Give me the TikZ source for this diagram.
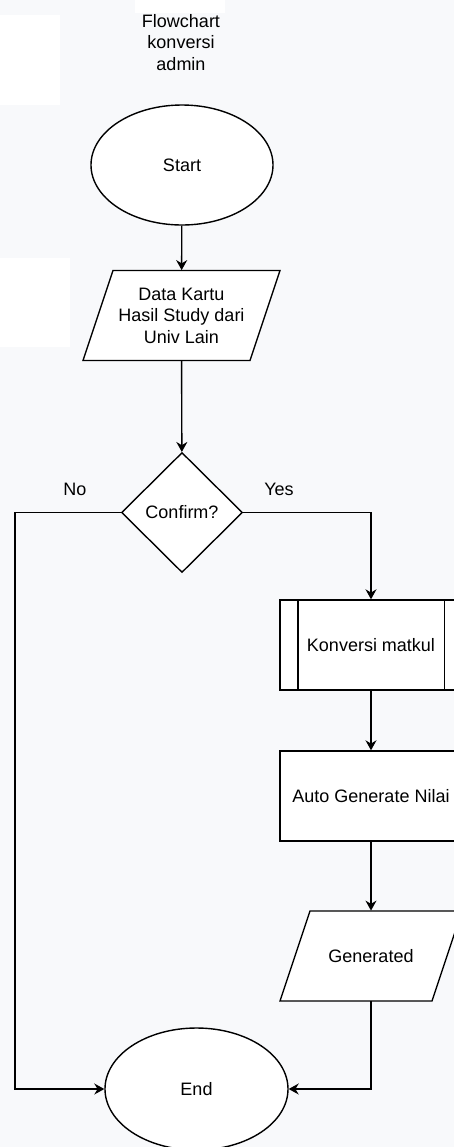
\documentclass[tikz,border=0pt]{standalone}
\usepackage{fontspec}
\setmainfont{Liberation Sans}
\usetikzlibrary{shapes.geometric,arrows.meta}
\definecolor{pagebg}{RGB}{248,249,251}

\begin{document}
\begin{tikzpicture}[x=0.5pt,y=-0.5pt,font=\fontsize{9}{10.75}\selectfont]
\tikzstyle{terminal}=[ellipse,draw,fill=white,line width=0.7pt,minimum width=91pt,minimum height=60pt,inner sep=0pt]
\tikzstyle{ioshape}=[draw,fill=white,line width=0.7pt]
\tikzstyle{io}=[rectangle,minimum height=45pt,align=center,inner sep=0pt]
\tikzstyle{decision}=[diamond,draw,fill=white,line width=0.7pt,minimum width=60.5pt,minimum height=60pt,inner sep=0pt]
\tikzstyle{process}=[rectangle,draw,fill=white,line width=0.7pt,minimum width=91pt,minimum height=45pt]
\tikzstyle{flow}=[line width=0.7pt,-{Stealth[length=5pt,width=5.5pt]}]
\tikzstyle{branch}=[inner sep=0pt]
\clip (0,0) rectangle (454,1147);
\fill[pagebg] (0,0) rectangle (454,1147);
\fill[white] (0,15) rectangle (60,105);
\fill[white] (0,258) rectangle (70,347);
\fill[white] (135,0) rectangle (225,13);
\node [align=center] (title) at (181,42.5) {Flowchart\\konversi\\admin};
\node [terminal] (start) at (182,165) {Start};
% parallelograms drawn by hand
\draw [ioshape,shift={(181.5,315.5)}] (-68.5,-45) -- (98.5,-45) -- (68.5,45) -- (-98.5,45) -- cycle;
\node [io] (data) at (181.5,315.5) {Data Kartu\\Hasil Study dari\\Univ Lain};
\node [decision] (confirm) at (182,512.5) {Confirm?};
\node [process] (konversi) at (371,645) {Konversi matkul};
\draw [line width=0.7pt] ([xshift=9.25pt]konversi.north west) -- ([xshift=9.25pt]konversi.south west);
\draw [line width=0.7pt] ([xshift=-9.25pt]konversi.north east) -- ([xshift=-9.25pt]konversi.south east);
\node [process] (nilai) at (371,796) {Auto Generate Nilai};
\draw [ioshape,shift={(371,956)}] (-61,-45) -- (91,-45) -- (61,45) -- (-91,45) -- cycle;
\node [io] (generated) at (371,956) {Generated};
\node [terminal,minimum width=91.5pt,minimum height=61pt] (end) at (196.5,1089) {End};
\node [branch] (no) at (75,489) {No};
\node [branch] (yes) at (279,489) {Yes};
\coordinate (nobend) at (15,512.5);
\draw [flow] (start) -- (data);
\draw [flow] (data) -- (confirm);
\draw [flow] (confirm.east) -| (konversi.north);
\draw [flow] (konversi) -- (nilai);
\draw [flow] (nilai) -- (generated);
\draw [flow] (confirm.west) -- (nobend) |- (end.west);
\draw [flow] (generated.south) |- (end.east);
\end{tikzpicture}
\end{document}
